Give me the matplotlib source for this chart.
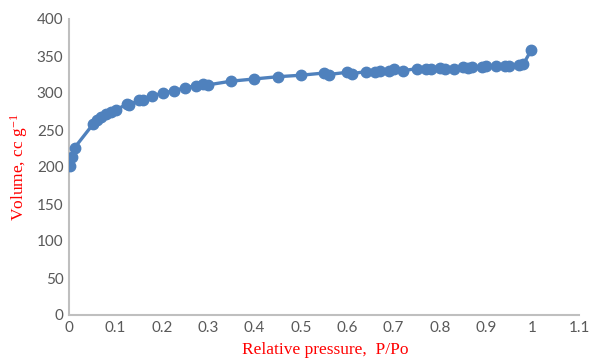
import matplotlib
matplotlib.use('Agg')
import matplotlib.pyplot as plt

plt.rcParams['mathtext.fontset'] = 'custom'
plt.rcParams['mathtext.rm'] = 'Liberation Serif'
plt.rcParams['mathtext.it'] = 'Liberation Serif:italic'

# isotherm
p_rel = [0.003, 0.007, 0.012, 0.052, 0.06, 0.07, 0.08, 0.09, 0.101, 0.125, 0.13,
         0.151, 0.16, 0.179, 0.203, 0.226, 0.25, 0.274, 0.29, 0.30, 0.35, 0.40,
         0.45, 0.50, 0.55, 0.56, 0.60, 0.61, 0.64, 0.66, 0.67, 0.69, 0.70, 0.72,
         0.75, 0.77, 0.78, 0.80, 0.81, 0.83, 0.85, 0.86, 0.87, 0.89, 0.90, 0.92,
         0.94, 0.95, 0.97, 0.98, 0.997]
volume = [202, 213, 226, 258, 263, 267, 271, 274, 277, 285, 284,
          290, 290, 296, 300, 303, 307, 310, 312, 311, 316, 319,
          322, 324, 327, 325, 328, 326, 329, 328, 330, 330, 332, 330,
          333, 332, 333, 334, 332, 333, 335, 334, 335, 335, 336, 337,
          337, 337, 338, 339, 358]

xticks = [0, 0.1, 0.2, 0.3, 0.4, 0.5, 0.6, 0.7, 0.8, 0.9, 1, 1.1]
xticklabels = ['0', '0.1', '0.2', '0.3', '0.4', '0.5', '0.6', '0.7', '0.8', '0.9', '1', '1.1']
yticks = [0, 50, 100, 150, 200, 250, 300, 350, 400]

fig = plt.figure(figsize=(5.9, 3.58), dpi=100)
ax = fig.add_axes([69/590, 1 - 315/358, 510/590, 296/358])

ax.plot(p_rel, volume, color='#4F81BD', lw=2.4, marker='o', ms=7.5, zorder=3)

ax.set_xlim(0, 1.1)
ax.set_ylim(0, 400)
ax.set_xticks(xticks)
ax.set_xticklabels(xticklabels)
ax.set_yticks(yticks)
ax.tick_params(length=0, colors='#595959', labelsize=11, pad=4)
for lab in ax.get_xticklabels() + ax.get_yticklabels():
    lab.set_family('Lato')

for s in ['top', 'right']:
    ax.spines[s].set_visible(False)
for s in ['left', 'bottom']:
    ax.spines[s].set_color('#BFBFBF')
    ax.spines[s].set_linewidth(1.5)

ax.set_xlabel('Relative pressure,  P/Po', color='red', family='Liberation Serif', fontsize=12.5)
ax.set_ylabel('Volume, cc g$^{\\mathregular{-1}}$', color='red', family='Liberation Serif', fontsize=12.5)
ax.xaxis.set_label_coords(0.502, -0.09)
ax.yaxis.set_label_coords(-0.076, 0.5)

fig.savefig('out.png', dpi=100)
